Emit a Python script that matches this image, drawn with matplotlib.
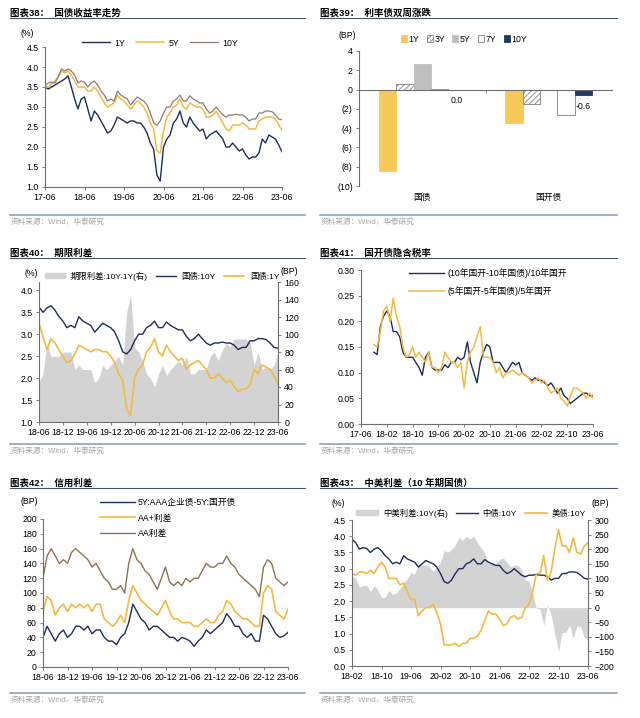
import numpy as np
import matplotlib.pyplot as plt
from matplotlib.lines import Line2D
from matplotlib.patches import Patch
from matplotlib.ticker import FuncFormatter

plt.rcParams['font.family'] = ['Liberation Sans', 'Noto Sans CJK SC']
plt.rcParams['hatch.linewidth'] = 0.6

# ---------------- data ----------------
# 图表38 国债收益率, monthly 17-06 .. 23-06
ticks38 = ['17-06', '18-06', '19-06', '20-06', '21-06', '22-06', '23-06']
one_y = [3.50, 3.45, 3.50, 3.55, 3.60, 3.65, 3.70,
         3.78, 3.50, 3.20, 2.95, 3.20, 3.25, 2.95, 2.65, 2.90, 2.80, 2.65, 2.50,
         2.35, 2.40, 2.55, 2.75, 2.70, 2.65, 2.60, 2.65, 2.65, 2.60, 2.60, 2.50,
         2.35, 2.10, 1.95, 1.30, 1.15, 2.00, 2.20, 2.30, 2.60, 2.70, 2.90, 2.60,
         2.50, 2.75, 2.60, 2.50, 2.40, 2.45, 2.20, 2.30, 2.35, 2.40, 2.30, 2.20,
         2.00, 2.00, 2.10, 2.00, 1.90, 1.95, 1.80, 1.70, 1.75, 1.75, 1.85, 2.20,
         2.10, 2.30, 2.25, 2.20, 2.05, 1.88]
five_y = [3.50, 3.50, 3.58, 3.65, 3.75, 3.90, 3.85,
          3.90, 3.80, 3.65, 3.50, 3.50, 3.50, 3.40, 3.40, 3.50, 3.40, 3.25, 3.10,
          3.00, 3.05, 3.10, 3.30, 3.20, 3.15, 3.05, 2.95, 3.05, 3.15, 3.10, 3.00,
          2.85, 2.60, 2.45, 1.90, 1.85, 2.40, 2.75, 2.85, 3.00, 3.05, 3.20, 3.00,
          2.95, 3.10, 3.05, 3.00, 3.00, 2.95, 2.75, 2.75, 2.80, 2.90, 2.75, 2.60,
          2.45, 2.40, 2.55, 2.55, 2.55, 2.60, 2.55, 2.45, 2.45, 2.45, 2.65, 2.70,
          2.75, 2.75, 2.75, 2.70, 2.55, 2.42]
ten_y = [3.55, 3.60, 3.62, 3.60, 3.75, 3.95, 3.90,
         3.95, 3.90, 3.80, 3.60, 3.65, 3.62, 3.50, 3.60, 3.65, 3.55, 3.40, 3.30,
         3.15, 3.20, 3.15, 3.40, 3.30, 3.25, 3.20, 3.05, 3.15, 3.25, 3.20, 3.15,
         3.05, 2.85, 2.60, 2.55, 2.65, 2.85, 3.00, 3.00, 3.15, 3.20, 3.30, 3.15,
         3.15, 3.28, 3.20, 3.15, 3.10, 3.10, 2.95, 2.85, 2.90, 3.00, 2.90, 2.80,
         2.75, 2.80, 2.80, 2.82, 2.80, 2.80, 2.75, 2.65, 2.70, 2.70, 2.85, 2.85,
         2.90, 2.90, 2.88, 2.80, 2.70, 2.68]

# 图表39 利率债双周涨跌 (BP)
groups39 = ['国债', '国开债']
tenors39 = ['1Y', '3Y', '5Y', '7Y', '10Y']
gz_chg = [-8.4, 0.6, 2.6, 0.05, 0.0]
gk_chg = [-3.5, -1.5, 0.0, -2.6, -0.6]

# 图表40 期限利差, monthly 18-06 .. 23-06 (BP)
ticks_half = ['18-06', '18-12', '19-06', '19-12', '20-06', '20-12',
              '21-06', '21-12', '22-06', '22-12', '23-06']
term_spread = [45, 55, 90, 75, 75, 75, 80,
               80, 80, 60, 65, 60, 60, 60, 45, 50, 65, 60, 65,
               70, 75, 65, 125, 145, 85, 80, 70, 55, 50, 40, 55,
               65, 53, 60, 65, 70, 65, 75, 55, 55, 60, 60, 60,
               75, 80, 70, 82, 90, 85, 95, 95, 95, 95, 90, 65,
               80, 60, 63, 60, 65, 80]

# 图表41 国开债隐含税率, monthly 17-10 .. 23-06
ticks41 = ['17-06', '18-02', '18-10', '19-06', '20-02', '20-10',
           '21-06', '22-02', '22-10', '23-06']
tax10 = [0.140, 0.135, 0.190,
         0.210, 0.220, 0.210, 0.180, 0.180, 0.170, 0.140, 0.130, 0.130, 0.130, 0.120, 0.110,
         0.095, 0.130, 0.140, 0.110, 0.105, 0.105, 0.105, 0.115, 0.110, 0.120, 0.120, 0.130,
         0.125, 0.130, 0.160, 0.120, 0.100, 0.080, 0.120, 0.140, 0.155, 0.150, 0.120, 0.120,
         0.120, 0.110, 0.100, 0.110, 0.120, 0.115, 0.120, 0.100, 0.095, 0.090, 0.085, 0.090,
         0.085, 0.085, 0.080, 0.075, 0.080, 0.070, 0.060, 0.070, 0.055, 0.050, 0.040, 0.045,
         0.050, 0.055, 0.060, 0.060, 0.055, 0.055]
tax5 = [0.155, 0.150, 0.180,
        0.220, 0.230, 0.200, 0.245, 0.210, 0.190, 0.150, 0.130, 0.135, 0.150, 0.130, 0.140,
        0.130, 0.120, 0.140, 0.110, 0.110, 0.100, 0.110, 0.140, 0.130, 0.120, 0.120, 0.110,
        0.120, 0.070, 0.120, 0.140, 0.150, 0.170, 0.190, 0.130, 0.130, 0.130, 0.120, 0.100,
        0.110, 0.090, 0.100, 0.100, 0.105, 0.100, 0.095, 0.100, 0.095, 0.090, 0.080, 0.085,
        0.090, 0.080, 0.085, 0.070, 0.060, 0.065, 0.070, 0.050, 0.045, 0.035, 0.055, 0.070,
        0.070, 0.065, 0.060, 0.050, 0.060, 0.050]

# 图表42 信用利差, monthly 18-06 .. 23-06 (BP)
aaa5 = [40, 55, 45, 35, 45, 50, 40,
        45, 55, 55, 50, 55, 45, 50, 50, 40, 35, 35, 30,
        40, 45, 60, 85, 75, 65, 60, 50, 55, 55, 50, 45,
        40, 40, 35, 40, 38, 35, 28, 35, 40, 50, 45, 50,
        55, 60, 72, 65, 55, 55, 45, 40, 45, 35, 35, 70,
        65, 55, 45, 40, 42, 47]
aa_plus = [75, 95, 90, 70, 80, 85, 75,
           85, 80, 85, 80, 85, 75, 85, 85, 65, 60, 55, 60,
           70, 60, 90, 110, 100, 90, 85, 80, 75, 70, 80, 90,
           75, 65, 65, 60, 60, 60, 55, 55, 60, 65, 60, 60,
           70, 75, 90, 85, 75, 70, 65, 65, 60, 55, 55, 100,
           110, 105, 75, 70, 65, 78]
aa = [120, 150, 160, 150, 140, 145, 140,
      155, 160, 155, 150, 145, 135, 140, 130, 120, 115, 105, 105,
      110, 100, 140, 160, 145, 140, 130, 125, 115, 105, 120, 135,
      115, 110, 115, 110, 120, 115, 120, 120, 130, 140, 135, 135,
      140, 140, 150, 140, 135, 125, 120, 115, 110, 105, 95, 135,
      145, 140, 120, 115, 110, 115]

# 图表43 中美利差, monthly 18-02 .. 23-06
ticks43 = ['18-02', '18-10', '19-06', '20-02', '20-10', '21-06', '22-02', '22-10', '23-06']
us10 = [2.85, 2.80, 2.90, 2.90, 2.85, 2.95, 2.85, 3.05, 3.20, 3.05, 2.70,
        2.70, 2.70, 2.50, 2.55, 2.30, 2.05, 2.05, 1.55, 1.70, 1.80, 1.80, 1.90,
        1.65, 1.30, 0.65, 0.65, 0.65, 0.70, 0.60, 0.70, 0.70, 0.85, 0.85, 0.92,
        1.10, 1.40, 1.70, 1.60, 1.60, 1.45, 1.25, 1.30, 1.50, 1.55, 1.45, 1.50,
        1.80, 1.90, 2.30, 2.85, 2.85, 3.40, 2.65, 2.90, 3.60, 4.20, 3.70, 3.70,
        3.50, 3.95, 3.50, 3.45, 3.70, 3.80]
cn_us_spread = [105, 100, 70, 75, 77, 55, 75, 60, 35, 35, 60,
                45, 50, 65, 85, 100, 120, 115, 150, 145, 145, 140, 125,
                140, 155, 195, 190, 200, 215, 240, 230, 245, 235, 245, 223,
                205, 188, 150, 155, 150, 165, 170, 155, 140, 145, 145, 130,
                95, 90, 50, -3, -5, -60, 10, -25, -90, -150, -85, -85,
                -60, -105, -62, -65, -100, -112]

NAVY = '#1F2D5A'
GOLD = '#F4B942'
BROWN38 = '#8C7D74'
BROWN42 = '#8B7456'
FILL = '#D3D3D3'
AXC = '#6E6E6E'
FS = 6.3

W, H = 640, 718
fig = plt.figure(figsize=(6.4, 7.18), dpi=100)


def box(l, t, r, b):
    return [l / W, 1 - b / H, (r - l) / W, (b - t) / H]


def fy(y):
    return 1 - y / H


def frame(x0, x1, yt, ysep, title):
    fig.text(x0 / W, fy(yt), title, fontsize=6.8, fontweight='bold', va='center', ha='left')
    fig.add_artist(Line2D([x0 / W, x1 / W], [fy(yt + 5.6)] * 2, color='#44546A', lw=0.8))
    fig.add_artist(Line2D([x0 / W, x1 / W], [fy(ysep)] * 2, color='#8497B0', lw=1.1))
    fig.text((x0 + 1) / W, fy(ysep + 7), '资料来源：Wind，华泰研究', fontsize=5.5,
             color='#A6A6A6', va='center', ha='left')


def style(ax, right=False):
    for s in ['top', 'right', 'left', 'bottom']:
        ax.spines[s].set_visible(False)
    show = ['right'] if right else ['left', 'bottom']
    for s in show:
        ax.spines[s].set_visible(True)
        ax.spines[s].set_color(AXC)
        ax.spines[s].set_linewidth(0.8)
    ax.tick_params(labelsize=FS, length=2.5, width=0.6, color=AXC, pad=2)


def unit(x, y, s):
    fig.text(x / W, fy(y), s, fontsize=FS, ha='center', va='center')


# ---------------- 图表38 ----------------
frame(10, 305, 12.7, 215, '图表38：  国债收益率走势')
ax = fig.add_axes(box(45, 47, 282, 187))
style(ax)
x = np.arange(len(one_y))
ax.plot(x, one_y, color=NAVY, lw=1.0, label='1Y')
ax.plot(x, five_y, color=GOLD, lw=1.1, label='5Y')
ax.plot(x, ten_y, color=BROWN38, lw=0.9, label='10Y')
ax.set_xlim(0, 72)
ax.set_ylim(1.0, 4.5)
ax.set_yticks(np.arange(1.0, 4.51, 0.5))
ax.yaxis.set_major_formatter(FuncFormatter(lambda v, p: f'{v:.1f}'))
ax.set_xticks(range(0, 73, 12), ticks38)
fig.legend(*ax.get_legend_handles_labels(), loc='center', bbox_to_anchor=(160 / W, fy(43)),
           ncol=3, frameon=False, fontsize=FS, handlelength=3.2, columnspacing=1.2,
           handletextpad=0.5)
unit(27, 33, '(%)')

# ---------------- 图表39 ----------------
frame(320, 617, 12.7, 215, '图表39：  利率债双周涨跌')
ax = fig.add_axes(box(359, 51, 612, 186))
style(ax)
ax.spines['bottom'].set_position(('data', 0))
w = 0.138
fcs = ['#F7C959', 'white', '#BFBFBF', 'white', '#1F3864']
ecs = ['#F7C959', '#808080', '#BFBFBF', '#808080', '#1F3864']
hatches = [None, '//////', None, None, None]
vals = np.array([gz_chg, gk_chg])
handles = []
for i, t in enumerate(tenors39):
    pos = np.arange(len(groups39)) + (i - 2) * w
    ax.bar(pos, vals[:, i], width=w, color=fcs[i], edgecolor=ecs[i], hatch=hatches[i], lw=0.6)
    handles.append(Patch(facecolor=fcs[i], edgecolor=ecs[i], hatch=hatches[i], lw=0.6, label=t))
    if t == '10Y':
        for p, v in zip(pos, vals[:, i]):
            ax.annotate(f'{v:.1f}', (p, min(v, 0)), xytext=(0, -11), textcoords='offset pixels',
                        ha='center', va='center', fontsize=FS)
ax.set_xlim(-0.5, 1.5)
ax.set_ylim(-10, 4)
ax.set_yticks(range(-10, 5, 2))
ax.yaxis.set_major_formatter(FuncFormatter(lambda v, p: f'({abs(int(v))})' if v < 0 else f'{int(v)}'))
ax.set_xticks([0.5], [''])
for i, g in enumerate(groups39):
    ax.annotate(g, (i, -10), xytext=(0, -11), textcoords='offset pixels',
                ha='center', va='center', fontsize=FS)
fig.legend(handles=handles, loc='center', bbox_to_anchor=(464 / W, fy(39)), ncol=5,
           frameon=False, fontsize=FS, handlelength=0.7, handleheight=0.7,
           handletextpad=0.2, columnspacing=0.8)
unit(347, 35, '(BP)')

# ---------------- 图表40 ----------------
frame(10, 305, 252.7, 444, '图表40：  期限利差')
ax = fig.add_axes(box(39, 282, 278, 422))
ax2 = ax.twinx()
style(ax)
style(ax2, right=True)
x = np.arange(len(term_spread))
ax2.fill_between(x, 0, term_spread, color=FILL, lw=0)
ax2.set_ylim(0, 160)
ax2.set_yticks(range(0, 161, 20))
ax.plot(x, ten_y[12:], color=NAVY, lw=1.0)
ax.plot(x, one_y[12:], color=GOLD, lw=1.2)
ax.set_zorder(ax2.get_zorder() + 1)
ax.patch.set_visible(False)
ax.set_xlim(0, 60)
ax.set_ylim(1.0, 4.19)
ax.set_yticks(np.arange(1.0, 4.01, 0.5))
ax.yaxis.set_major_formatter(FuncFormatter(lambda v, p: f'{v:.1f}'))
ax.set_xticks(range(0, 61, 6), ticks_half)
h40 = [Patch(color=FILL), Line2D([], [], color=NAVY, lw=1.0), Line2D([], [], color=GOLD, lw=1.2)]
fig.legend(h40, ['期限利差:10Y-1Y(右)', '国债:10Y', '国债:1Y'], loc='center',
           bbox_to_anchor=(162 / W, fy(276)), ncol=3, frameon=False, fontsize=FS - 0.3,
           handlelength=2.4, handleheight=0.6, columnspacing=1.0, handletextpad=0.7)
unit(31, 273, '(%)')
unit(289, 271, '(BP)')

# ---------------- 图表41 ----------------
frame(320, 617, 252.7, 444, '图表41：  国开债隐含税率')
ax = fig.add_axes(box(361, 270, 593, 424))
style(ax)
x41 = np.arange(4, 4 + len(tax10))
ax.plot(x41, tax10, color=NAVY, lw=1.0, label='(10年国开-10年国债)/10年国开')
ax.plot(x41, tax5, color=GOLD, lw=1.1, label='(5年国开-5年国债)/5年国开')
ax.set_xlim(0, 72)
ax.set_ylim(0, 0.30)
ax.set_yticks(np.arange(0, 0.301, 0.05))
ax.yaxis.set_major_formatter(FuncFormatter(lambda v, p: f'{v:.2f}'))
ax.set_xticks(range(0, 73, 8), ticks41)
fig.legend(*ax.get_legend_handles_labels(), loc='center', bbox_to_anchor=(488 / W, fy(282)),
           ncol=1, frameon=False, fontsize=FS, handlelength=4.0, labelspacing=0.9,
           handletextpad=0.3)

# ---------------- 图表42 ----------------
frame(10, 305, 482.7, 692.7, '图表42：  信用利差')
ax = fig.add_axes(box(43, 519, 288, 667))
style(ax)
x = np.arange(len(aaa5))
ax.plot(x, aaa5, color=NAVY, lw=1.0, label='5Y:AAA企业债-5Y:国开债')
ax.plot(x, aa_plus, color=GOLD, lw=1.2, label='AA+利差')
ax.plot(x, aa, color=BROWN42, lw=1.0, label='AA利差')
ax.set_xlim(0, 60)
ax.set_ylim(0, 200)
ax.set_yticks(range(0, 201, 20))
ax.set_xticks(range(0, 61, 6), ticks_half)
fig.legend(*ax.get_legend_handles_labels(), loc='center', bbox_to_anchor=(168 / W, fy(518)),
           ncol=1, frameon=False, fontsize=FS, handlelength=4.0, labelspacing=0.75,
           handletextpad=0.3)
unit(29, 501, '(BP)')

# ---------------- 图表43 ----------------
frame(320, 617, 482.7, 692.7, '图表43：  中美利差（10 年期国债）')
ax = fig.add_axes(box(352, 520, 588, 666))
ax2 = ax.twinx()
style(ax)
style(ax2, right=True)
x = np.arange(len(us10))
ax2.fill_between(x, 0, cn_us_spread, color=FILL, lw=0)
ax2.set_ylim(-200, 300)
ax2.set_yticks(range(-200, 301, 50))
ax.plot(x, ten_y[8:], color=NAVY, lw=1.0)
ax.plot(x, us10, color=GOLD, lw=1.2)
ax.set_zorder(ax2.get_zorder() + 1)
ax.patch.set_visible(False)
ax.set_xlim(0, 64)
ax.set_ylim(0, 4.5)
ax.set_yticks(np.arange(0, 4.51, 0.5))
ax.yaxis.set_major_formatter(FuncFormatter(lambda v, p: f'{v:.1f}'))
ax.set_xticks(range(0, 65, 8), ticks43)
h43 = [Patch(color=FILL), Line2D([], [], color=NAVY, lw=1.0), Line2D([], [], color=GOLD, lw=1.2)]
fig.legend(h43, ['中美利差:10Y(右)', '中债:10Y', '美债:10Y'], loc='center',
           bbox_to_anchor=(471 / W, fy(513)), ncol=3, frameon=False, fontsize=FS - 0.3,
           handlelength=2.6, handleheight=0.6, columnspacing=1.0, handletextpad=0.6)
unit(338, 503, '(%)')
unit(600, 503, '(BP)')

fig.savefig('out.png', dpi=100)
